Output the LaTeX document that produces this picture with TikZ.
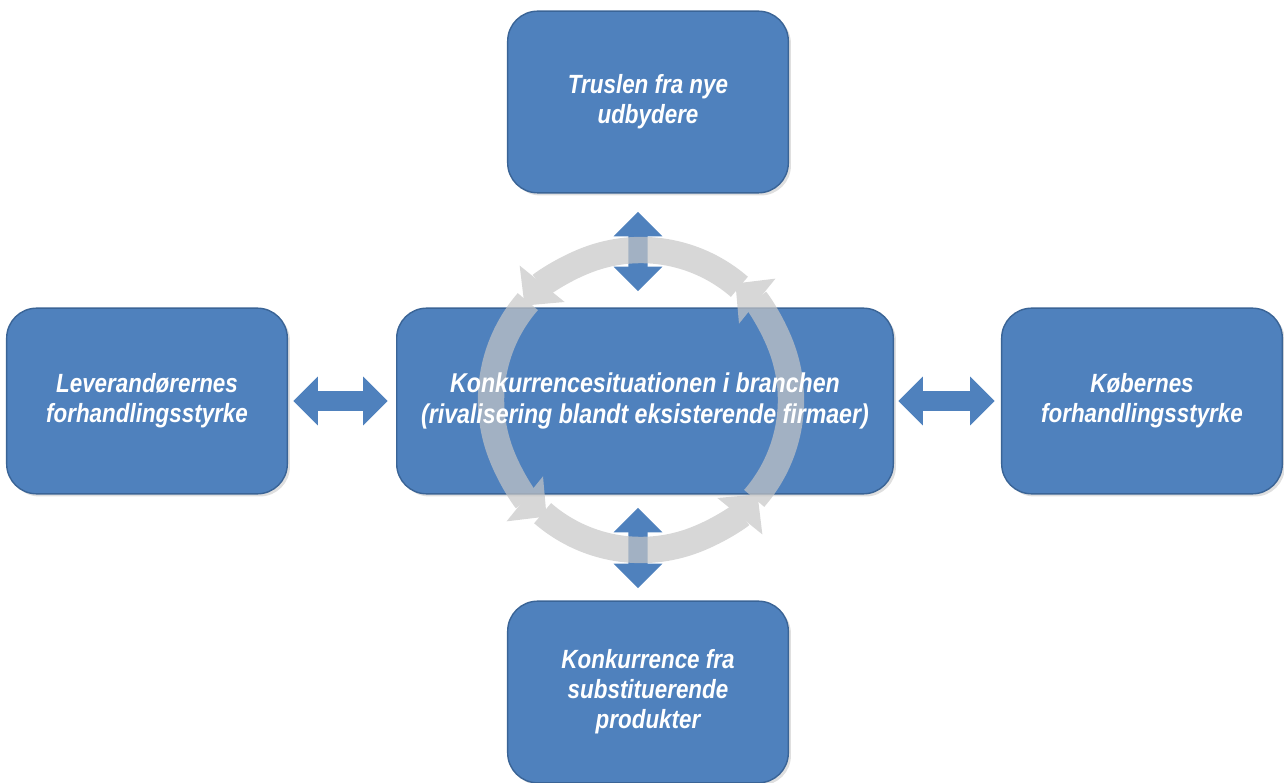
\documentclass[tikz,border=0pt]{standalone}
\usepackage{fontspec}
\setmainfont{Liberation Sans}[FakeStretch=0.85]
\usetikzlibrary{arrows.meta,shadows}
\definecolor{kasseblaa}{HTML}{4F81BD}
\definecolor{kantblaa}{HTML}{3A6496}
\definecolor{ringgraa}{HTML}{C6C6C6}
\pgfdeclarelayer{bund}
\pgfdeclarelayer{ring}
\pgfsetlayers{bund,ring,main}
\tikzset{
  kasse/.style={minimum width=5.6cm, minimum height=3.7cm, align=center, text=white,
    font=\fontsize{15}{17}\selectfont\bfseries\itshape},
  kassefyld/.style={fill=kasseblaa, draw=kantblaa, line width=0.8pt, rounded corners=0.6cm,
    drop shadow={opacity=0.25, shadow xshift=1.5pt, shadow yshift=-1.5pt}},
  dobbeltpil/.style={kasseblaa, line width=11pt, {Triangle[width=27pt,length=14pt]}-{Triangle[width=27pt,length=14pt]}},
  ringpil/.style={ringgraa, line width=15pt, -{Triangle[width=32pt,length=16pt]}}
}
\begin{document}
\begin{tikzpicture}[x=0.02cm,y=-0.02cm]
\useasboundingbox (0,0) rectangle (1284,783);

% de fem kasser
\node[kasse, minimum height=3.62cm] (trusl) at (648,102) {Truslen fra nye\\udbydere};
\node[kasse] (lev) at (147,401) {Leverandørernes\\forhandlingsstyrke};
\node[kasse, minimum width=9.92cm, font=\fontsize{15.5}{18}\selectfont\bfseries\itshape] (konk) at (645,401) {Konkurrencesituationen i branchen\\(rivalisering blandt eksisterende firmaer)};
\node[kasse] (kob) at (1142,401) {Købernes\\forhandlingsstyrke};
\node[kasse, minimum height=3.62cm] (subst) at (648,692) {Konkurrence fra\\substituerende\\produkter};
\coordinate (ringm) at (641,400);

\begin{pgfonlayer}{bund}
\foreach \n in {trusl,lev,konk,kob,subst}
  \draw[kassefyld] (\n.south west) rectangle (\n.north east);
\draw[dobbeltpil] ([xshift=-0.2cm,yshift=-0.38cm]trusl.south) -- ([xshift=-0.14cm,yshift=0.34cm]konk.north);
\draw[dobbeltpil] ([xshift=0.12cm]lev.east) -- ([xshift=-0.18cm]konk.west);
\draw[dobbeltpil] ([xshift=0.1cm]konk.east) -- ([xshift=-0.14cm]kob.west);
\draw[dobbeltpil] ([xshift=-0.14cm,yshift=-0.28cm]konk.south) -- ([xshift=-0.2cm,yshift=0.26cm]subst.north);
\end{pgfonlayer}

% kredsloebet
\begin{pgfonlayer}{ring}
\begin{scope}[opacity=0.7, transparency group]
\foreach \b in {51,141,231,321}
  \draw[ringpil] ([shift={(\b-92:3cm)}]ringm) arc[start angle=\b-92, end angle=\b, radius=3cm];
\end{scope}
\end{pgfonlayer}
\end{tikzpicture}
\end{document}
